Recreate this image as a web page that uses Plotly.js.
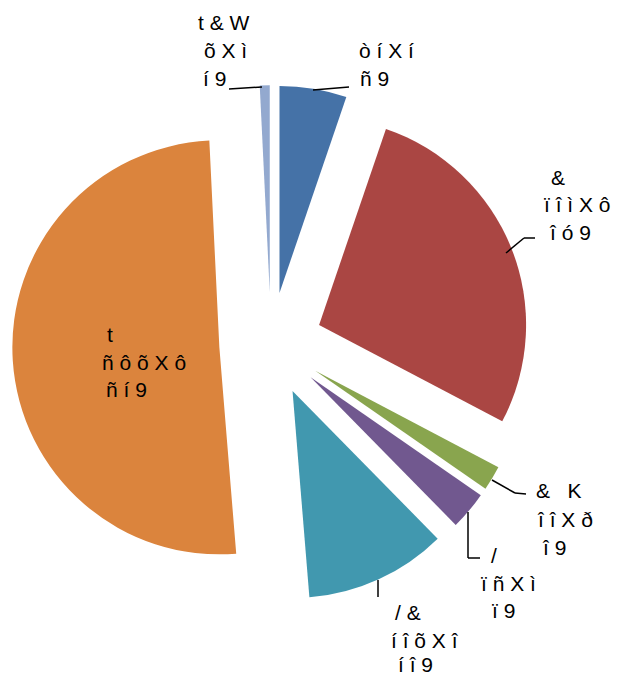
<!DOCTYPE html>
<html>
<head>
<meta charset="utf-8">
<script src="https://cdn.plot.ly/plotly-3.0.1.min.js"></script>
<style>html,body{margin:0;padding:0;background:#fff;}#chart{width:630px;height:677px;}</style>
</head>
<body>
<div id="chart"></div>
<script>
// ---- data ----
const categories = ['', '&', '&   K', '/', '/ &', 't', 't & W'];
const values = [61.1, 320.8, 22.4, 35.0, 129.2, 589.8, 9.0];
const valueLabels = ['ò í X í', 'ï î ì X ô', 'î î X ð', 'ï ñ X ì', 'í î õ X î', 'ñ ô õ X ô', 'õ X ì'];
const percentLabels = ['ñ 9', 'î ó 9', 'î 9', 'ï 9', 'í î 9', 'ñ í 9', 'í 9'];

// ---- styles ----
const colors = ['#4572A7', '#AA4643', '#89A54E', '#71588F', '#4198AF', '#DB843D', '#93A9CF'];
const W = 630, H = 677;
const px = x => x / W;
const py = y => 1 - y / H;
// label line centers (pixels) per slice: [name, value, percent]
const labelPos = [
  [null, [386, 50], [374, 79]],
  [[558, 177], [577, 205], [570, 232]],
  [[559, 490], [565, 519], [554, 547]],
  [[494, 555], [508, 583], [503, 610]],
  [[408, 612], [425, 640], [415, 664]],
  [[110, 334], [144, 362], [126, 389]],
  [[224, 22], [225, 50], [214, 79]]
];
const leaders = [
  [[229, 89], [262, 87]],
  [[313, 90], [349, 87]],
  [[506, 253], [524, 238], [535, 238]],
  [[492, 480], [515, 493], [526, 494]],
  [[468, 512], [468, 558], [480, 558]],
  [[378, 580], [378, 597]]
];
const font = {family: 'Liberation Sans, Arial, sans-serif', size: 21, color: '#000'};

const annotations = [];
categories.forEach((c, i) => {
  const lines = [c, valueLabels[i], percentLabels[i]];
  lines.forEach((t, j) => {
    const p = labelPos[i][j];
    if (!p || !t) return;
    annotations.push({
      xref: 'paper', yref: 'paper', x: px(p[0]), y: py(p[1]),
      xanchor: 'center', yanchor: 'middle', text: t, showarrow: false,
      borderpad: 0, font: font
    });
  });
});

const shapes = [];
leaders.forEach(pts => {
  for (let k = 0; k < pts.length - 1; k++) {
    shapes.push({type: 'line', xref: 'paper', yref: 'paper',
      x0: px(pts[k][0]), y0: py(pts[k][1]), x1: px(pts[k + 1][0]), y1: py(pts[k + 1][1]),
      line: {color: '#000', width: 1.5}});
  }
});

const half = 258.75, cx = 271, cy = 344;
const trace = {
  type: 'pie',
  labels: categories.map((c, i) => c + '|' + i),
  values: values,
  sort: false,
  direction: 'clockwise',
  rotation: 0,
  pull: values.map(() => 0.25),
  marker: {colors: colors, line: {width: 0}},
  textinfo: 'none',
  hoverinfo: 'none',
  showlegend: false,
  domain: {x: [px(cx - half), px(cx + half)], y: [py(cy + half), py(cy - half)]}
};

Plotly.newPlot('chart', [trace], {
  width: W, height: H,
  margin: {l: 0, r: 0, t: 0, b: 0},
  paper_bgcolor: '#fff',
  showlegend: false,
  annotations: annotations,
  shapes: shapes
}, {staticPlot: true});
</script>
</body>
</html>
